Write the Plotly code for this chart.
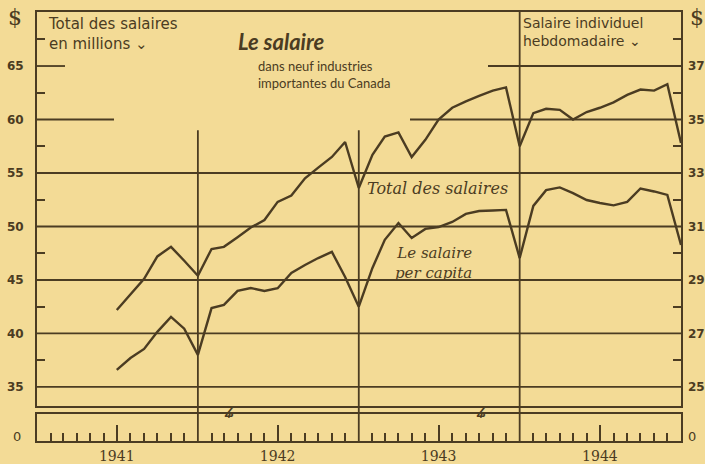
import pandas as pd
import plotly.graph_objects as go

# ---------------- data ----------------
months = pd.date_range("1941-07-01", "1945-01-01", freq="MS")

# Total des salaires, en millions de $ (left axis)
total_millions = [
    42.2, 43.7, 45.1, 47.2, 48.1, 46.8,                          # 1941 Jul-Dec
    45.4, 47.9, 48.1, 49.0, 49.9, 50.6, 52.3, 52.9, 54.5, 55.5, 56.5, 57.9,  # 1942
    53.6, 56.7, 58.4, 58.8, 56.5, 58.1, 60.0, 61.1, 61.7, 62.2, 62.7, 63.0,  # 1943
    57.5, 60.6, 61.0, 60.9, 60.0, 60.7, 61.1, 61.6, 62.3, 62.8, 62.7, 63.3,  # 1944
    57.8,                                                          # 1945 Jan
]

# Salaire individuel hebdomadaire, $ (right axis)
per_capita = [
    25.64, 26.08, 26.42, 27.06, 27.62, 27.18,
    26.20, 27.95, 28.07, 28.59, 28.70, 28.59, 28.69, 29.26, 29.56, 29.82, 30.05, 29.11,
    28.00, 29.45, 30.50, 31.13, 30.57, 30.91, 30.98, 31.17, 31.47, 31.58, 31.60, 31.62,
    29.82, 31.77, 32.36, 32.46, 32.25, 31.99, 31.88, 31.79, 31.92, 32.42, 32.31, 32.18,
    30.31,
]

left_ticks = [35, 40, 45, 50, 55, 60, 65]
right_ticks = [25, 27, 29, 31, 33, 35, 37]
years = [1941, 1942, 1943, 1944]

# ---------------- geometry / style ----------------
W, H = 705, 464
L, R, T, B = 37, 24, 12, 23
pw, ph = W - L - R, H - T - B


def px(x):
    return (x - L) / pw


def py(y):
    return (H - B - y) / ph


main_bottom = py(406)
strip_top = py(414)

Y_MIN, Y_MAX = 33.22, 70.05
R_MIN, R_MAX = 25 + (Y_MIN - 35) * 0.4, 25 + (Y_MAX - 35) * 0.4

INK = "#4b3c22"
BG = "#f3db96"
X_RANGE = ["1941-01-01", "1945-01-01"]

fig = go.Figure()
fig.add_trace(go.Scatter(x=months, y=total_millions, mode="lines",
                         line=dict(color=INK, width=2.4), xaxis="x", yaxis="y",
                         hoverinfo="skip"))
fig.add_trace(go.Scatter(x=months, y=per_capita, mode="lines",
                         line=dict(color=INK, width=2.4), xaxis="x", yaxis="y2",
                         hoverinfo="skip"))
fig.add_trace(go.Scatter(x=[X_RANGE[0]], y=[0.5], mode="markers",
                         marker=dict(opacity=0), xaxis="x2", yaxis="y3",
                         hoverinfo="skip"))

# gridlines (some interrupted to leave room for text)
grid_spans = {60: [(37, 114), (410, 681)], 65: [(37, 65), (488, 681)]}
shapes = []
for v in left_ticks:
    for a, b in grid_spans.get(v, [(37, 681)]):
        shapes.append(dict(type="line", xref="paper", yref="y", x0=px(a), x1=px(b),
                           y0=v, y1=v, line=dict(color=INK, width=1.8)))

# year dividers
def yfrac(v):
    return main_bottom + (v - Y_MIN) / (Y_MAX - Y_MIN) * (1 - main_bottom)

divider_tops = {1942: yfrac(59.0), 1943: yfrac(59.0), 1944: 1.0}
for yr, top in divider_tops.items():
    shapes.append(dict(type="line", xref="x", yref="paper", x0=f"{yr}-01-01",
                       x1=f"{yr}-01-01", y0=0, y1=top,
                       line=dict(color=INK, width=1.8)))

minor_months = [d for d in pd.date_range("1941-01-01", "1944-12-01", freq="MS")
                if d.month not in (1, 7)]
mid_years = [f"{y}-07-01" for y in years]

font_num = dict(family="DejaVu Sans", size=12, color=INK, weight="bold")

fig.update_layout(
    width=W, height=H,
    margin=dict(l=L, r=R, t=T, b=B, pad=0, autoexpand=False),
    paper_bgcolor=BG, plot_bgcolor=BG,
    showlegend=False,
    shapes=shapes,
    xaxis=dict(domain=[0, 1], anchor="y", type="date", range=X_RANGE,
               showline=True, linecolor=INK, linewidth=2, mirror=True,
               showgrid=False, zeroline=False, showticklabels=False, ticks=""),
    yaxis=dict(domain=[main_bottom, 1], anchor="x", range=[Y_MIN, Y_MAX],
               tickmode="array", tickvals=left_ticks, ticks="",
               showline=True, linecolor=INK, linewidth=2, mirror=True,
               showgrid=False, zeroline=False, tickfont=font_num,
               ticklabelstandoff=9, automargin=False,
               minor=dict(tickmode="array",
                          tickvals=[37.5, 42.5, 47.5, 52.5, 57.5, 62.5, 67.5],
                          ticks="inside", ticklen=8, tickwidth=1.5, tickcolor=INK,
                          showgrid=False)),
    yaxis2=dict(overlaying="y", side="right", anchor="x", range=[R_MIN, R_MAX],
                tickmode="array", tickvals=right_ticks, ticks="",
                showgrid=False, zeroline=False, showline=False,
                tickfont=font_num, ticklabelstandoff=6, automargin=False,
                minor=dict(tickmode="array", tickvals=[26, 28, 30, 32, 34, 36, 38],
                           ticks="inside", ticklen=8, tickwidth=1.5, tickcolor=INK,
                           showgrid=False)),
    xaxis2=dict(domain=[0, 1], anchor="y3", type="date", range=X_RANGE,
                showline=True, linecolor=INK, linewidth=2, mirror=True,
                showgrid=False, zeroline=False, automargin=False,
                tickmode="array", tickvals=mid_years, ticktext=[str(y) for y in years],
                ticks="inside", ticklen=16, tickwidth=1.5, tickcolor=INK,
                tickfont=dict(family="DejaVu Serif", size=14, color=INK),
                ticklabelstandoff=1,
                minor=dict(tickmode="array", tickvals=minor_months, ticks="inside",
                           ticklen=8, tickwidth=1.5, tickcolor=INK, showgrid=False)),
    yaxis3=dict(domain=[0, strip_top], anchor="x2", range=[0, 1],
                showline=True, linecolor=INK, linewidth=2, mirror=True,
                showgrid=False, zeroline=False, showticklabels=False, ticks=""),
)

def ann(text, x, y, xanchor="left", yanchor="middle", size=12, family="DejaVu Sans",
        align="left", **kw):
    fig.add_annotation(text=text, x=px(x), y=py(y), xref="paper", yref="paper",
                       xanchor=xanchor, yanchor=yanchor, showarrow=False, align=align,
                       font=dict(family=family, size=size, color=INK), **kw)

ann("$", 15, 18, xanchor="center", size=22, family="DejaVu Serif")
ann("$", 697, 18, xanchor="center", size=22, family="DejaVu Serif")
ann("Total des salaires<br>en millions ⌄", 46, 13, yanchor="top", size=15)
ann("Salaire individuel<br>hebdomadaire ⌄", 521, 13, yanchor="top", size=14)
ann("<b><i>Le salaire</i></b>", 236, 42, size=22, family="Lato")
ann("dans neuf industries<br>importantes du Canada", 256, 74, size=13, family="Lato")
ann("<i>Total des salaires</i>", 365, 188, size=16, family="DejaVu Serif")
ann("<i>Le salaire<br>per capita</i>", 474, 263, xanchor="right", align="right",
    size=15, family="DejaVu Serif")
ann("0", 17, 436, xanchor="center", size=13)
ann("0", 692, 436, xanchor="center", size=13)
ann("ʑ", 229, 410, xanchor="center", size=19)
ann("ʑ", 481, 410, xanchor="center", size=19)

fig.write_html("out.html", config={"displayModeBar": False},
               post_script="document.body.style.margin='0';document.body.style.padding='0';")
